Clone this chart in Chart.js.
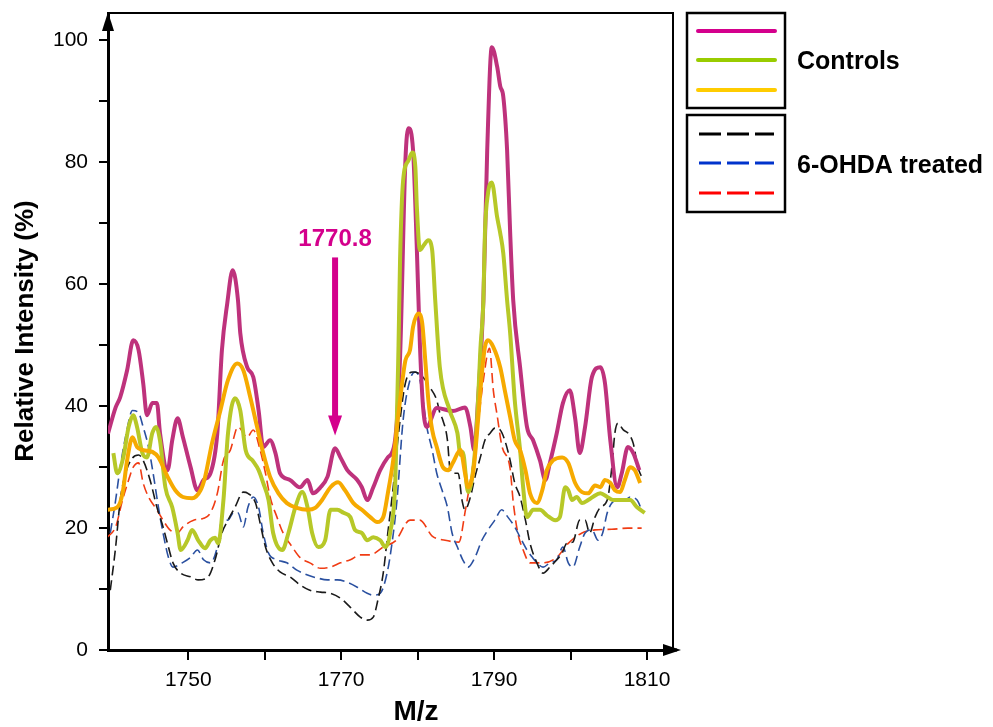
<!DOCTYPE html>
<html>
<head>
<meta charset="utf-8">
<title>Relative intensity, M/z 1740-1810</title>
<script src="https://cdn.jsdelivr.net/npm/chart.js@4.4.1/dist/chart.umd.min.js"></script>
<style>
  html, body { margin: 0; padding: 0; background: #fff; }
</style>
</head>
<body>
<canvas id="msChart" width="993" height="727"></canvas>
<script>
// --- data (M/z, relative intensity %) ---

// controls (solid)
const ctrlAMz = [1739.5,1740.5,1741.1,1742.0,1742.8,1743.5,1744.1,1744.6,1745.3,1745.9,1746.3,1747.3,1747.9,1748.6,1749.3,1750.3,1751.2,1752.0,1752.9,1753.8,1754.4,1755.1,1755.8,1756.5,1756.8,1757.7,1758.5,1759.2,1759.8,1760.7,1761.4,1762.0,1763.3,1764.6,1765.6,1766.3,1767.3,1768.2,1769.2,1769.9,1770.8,1772.1,1772.7,1773.4,1774.2,1775.1,1776.1,1777.0,1777.7,1778.4,1778.8,1779.4,1779.9,1780.3,1780.7,1781.2,1782.5,1784.6,1786.2,1786.9,1787.4,1787.9,1788.6,1789.1,1789.7,1790.4,1790.8,1791.2,1791.7,1792.1,1792.5,1793.4,1794.3,1795.1,1796.0,1796.7,1797.3,1798.2,1799.0,1799.9,1800.6,1801.2,1801.9,1802.8,1803.9,1804.5,1805.2,1806.1,1806.7,1807.5,1808.2,1809.0];
const ctrlAInt = [35.5,39.8,41.5,45.9,50.8,49.2,43.8,38.5,40.5,40.5,35.6,29.5,34.4,38.0,34.9,30.0,26.2,27.9,29.0,35.6,49.2,56.9,62.3,57.4,52.0,46.4,44.8,39.3,33.3,34.4,32.3,29.0,27.9,26.7,27.9,25.7,26.7,28.4,33.1,31.6,29.5,27.9,26.7,24.6,26.7,29.5,31.6,34.0,48.0,80.3,85.6,82.0,65.6,50.0,40.0,36.6,39.7,39.2,39.8,36.6,32.8,41.0,57.4,82.0,98.9,95.7,92.5,90.8,82.0,68.5,57.4,46.4,36.6,34.4,31.1,27.9,30.7,35.6,40.5,42.6,38.0,32.3,36.6,44.8,46.4,43.8,34.4,26.7,29.0,33.3,32.3,29.5];

const ctrlBMz = [1740.2,1740.7,1741.5,1742.2,1742.8,1743.3,1744.0,1744.6,1745.3,1745.8,1746.3,1747.0,1747.9,1748.6,1749.0,1749.9,1750.5,1751.3,1752.2,1752.9,1753.5,1753.9,1754.6,1755.2,1756.1,1756.8,1757.5,1758.4,1759.2,1759.8,1760.5,1761.1,1762.3,1763.1,1764.0,1764.9,1765.6,1766.2,1767.0,1767.9,1768.6,1769.5,1770.3,1771.2,1771.8,1772.7,1773.4,1774.2,1775.1,1775.8,1776.4,1777.1,1777.5,1777.7,1778.1,1778.8,1779.3,1779.7,1779.9,1780.3,1780.8,1781.4,1781.9,1782.3,1782.9,1784.2,1785.2,1785.6,1785.9,1786.6,1787.3,1787.8,1788.2,1788.6,1788.8,1789.2,1789.7,1790.4,1790.8,1791.2,1791.7,1792.1,1792.7,1793.4,1793.8,1794.3,1795.1,1796.0,1796.9,1798.0,1798.6,1799.3,1799.7,1800.2,1800.8,1801.5,1802.3,1802.9,1803.9,1804.8,1805.6,1806.5,1807.8,1808.7,1809.7];
const ctrlBInt = [32.3,29.0,31.6,36.6,38.5,36.6,32.3,31.6,35.6,36.6,34.4,26.7,23.4,19.2,16.4,18.0,19.7,18.0,16.7,18.0,18.4,17.5,24.6,35.6,41.3,39.3,32.8,31.1,29.5,27.4,24.6,19.2,16.4,19.2,23.4,25.9,23.4,19.2,16.9,18.0,23.0,23.0,22.5,21.8,19.7,19.2,18.0,18.5,18.0,16.9,19.2,28.4,50.0,64.0,77.0,80.3,81.6,79.2,72.6,65.6,66.4,67.2,65.6,57.4,46.4,39.3,35.6,32.0,32.5,25.9,30.0,38.2,49.2,57.4,68.4,74.9,76.7,71.0,68.4,65.1,57.4,52.0,41.0,32.8,26.7,21.8,23.0,23.0,22.1,21.3,21.8,26.7,26.2,24.6,25.1,24.1,24.6,25.1,25.7,25.1,24.6,24.6,24.6,23.4,22.5];

const ctrlCMz = [1739.4,1740.7,1741.4,1742.0,1742.7,1743.3,1744.1,1745.3,1746.1,1747.3,1748.3,1749.3,1750.5,1751.6,1752.2,1753.1,1754.2,1755.2,1756.4,1757.2,1758.1,1759.0,1759.8,1760.7,1761.8,1762.9,1764.2,1765.6,1766.6,1767.5,1768.6,1769.6,1770.5,1771.6,1772.7,1773.8,1774.7,1775.5,1776.1,1776.8,1777.7,1778.4,1779.0,1779.4,1780.1,1780.6,1781.0,1781.4,1781.9,1782.5,1783.3,1784.0,1784.6,1785.6,1786.2,1786.6,1787.3,1787.9,1788.4,1788.8,1789.2,1789.9,1790.8,1791.4,1792.1,1792.7,1793.4,1794.1,1794.7,1795.6,1796.3,1796.9,1797.7,1798.9,1799.7,1800.6,1801.5,1802.3,1803.2,1803.9,1804.5,1805.2,1805.8,1806.5,1807.1,1807.8,1808.4,1809.1];
const ctrlCInt = [23.0,23.4,25.7,31.1,34.9,33.3,32.8,32.5,31.6,28.4,26.2,25.1,24.9,26.2,28.4,33.9,39.3,44.3,47.0,45.9,41.5,36.6,32.3,28.4,25.7,24.1,23.3,23.0,23.3,24.6,26.7,27.5,26.2,24.1,23.0,21.8,21.0,21.8,25.7,31.1,41.0,47.5,49.2,53.0,55.2,53.6,47.5,41.0,36.1,33.3,30.0,29.5,30.7,32.8,29.0,26.7,29.5,37.7,45.4,49.7,50.8,49.7,46.4,42.6,38.2,34.4,32.8,29.5,25.7,24.1,26.2,29.5,31.1,31.6,30.7,27.4,25.9,25.7,27.0,26.7,27.9,27.4,26.2,25.9,27.9,30.0,29.5,27.4];

// 6-OHDA treated (dashed)
const ohdaAMz = [1739.8,1740.5,1741.1,1741.8,1742.7,1743.5,1744.1,1745.0,1745.9,1746.7,1747.4,1748.0,1749.0,1750.3,1751.3,1752.6,1753.5,1754.4,1755.2,1756.1,1757.2,1757.8,1758.8,1759.4,1760.1,1761.0,1762.0,1763.3,1764.6,1765.9,1767.3,1768.6,1769.9,1771.2,1772.5,1773.4,1774.2,1774.8,1775.5,1776.1,1776.8,1777.5,1778.4,1779.4,1780.1,1781.0,1781.6,1782.5,1782.9,1783.3,1783.9,1784.2,1784.6,1785.3,1785.8,1786.2,1786.9,1787.5,1788.2,1788.8,1789.5,1790.1,1790.8,1791.4,1792.1,1792.7,1793.4,1794.1,1794.7,1795.6,1796.4,1797.3,1798.2,1798.9,1799.5,1800.3,1801.2,1801.9,1802.5,1803.2,1803.9,1804.8,1805.4,1805.8,1806.2,1806.9,1807.5,1808.2,1808.8,1809.3];
const ohdaAInt = [9.8,16.9,24.6,29.0,31.5,32.0,31.1,27.9,23.4,20.2,16.9,14.3,12.6,12.0,11.5,12.0,14.8,19.2,21.3,23.4,25.9,25.7,24.1,20.8,16.9,14.3,12.8,12.0,10.7,9.8,9.5,9.3,8.5,7.0,5.4,4.9,5.4,8.2,12.6,19.2,26.7,35.5,43.8,45.6,45.4,44.3,43.1,41.0,38.9,37.7,34.4,30.0,29.0,29.0,24.6,23.0,25.1,28.4,31.6,34.4,35.6,36.4,36.1,34.4,31.1,27.4,25.1,21.3,17.5,14.3,12.6,13.6,14.8,15.9,17.5,17.7,21.3,21.3,19.2,21.8,23.4,24.6,30.0,35.6,37.2,36.1,35.6,33.9,30.0,28.4];

const ohdaBMz = [1739.8,1740.5,1741.1,1741.9,1742.7,1743.5,1744.1,1744.8,1745.4,1746.1,1746.7,1747.4,1748.0,1749.2,1750.3,1751.2,1752.0,1752.9,1753.8,1754.4,1755.2,1755.9,1756.5,1757.2,1757.8,1758.5,1759.2,1759.8,1760.5,1761.6,1762.9,1764.2,1765.6,1766.9,1768.2,1769.5,1770.8,1772.1,1773.4,1774.2,1775.1,1776.0,1776.7,1777.3,1778.1,1779.0,1779.7,1780.3,1780.7,1781.2,1781.9,1782.5,1783.2,1783.9,1784.5,1785.2,1785.9,1786.6,1787.5,1788.4,1789.2,1790.1,1791.0,1791.8,1792.7,1793.4,1794.3,1795.0,1795.6,1796.4,1797.3,1798.2,1799.0,1799.7,1800.3,1801.2,1801.9,1802.8,1803.6,1804.2,1804.8,1805.4,1806.2,1807.1,1807.8,1808.7,1809.3];
const ohdaBInt = [19.2,24.6,30.0,35.6,39.3,38.9,36.6,33.3,29.0,23.4,19.2,15.2,13.6,14.3,15.2,16.4,14.8,14.3,16.9,21.3,21.3,22.5,22.5,20.2,23.4,25.1,23.4,19.2,15.9,14.8,14.3,13.1,12.3,11.8,11.5,11.5,11.1,10.3,9.3,9.0,9.3,12.6,18.0,24.6,37.7,44.3,45.6,44.3,41.0,36.6,32.8,29.0,26.2,23.4,19.2,16.9,14.8,13.6,15.2,18.0,19.7,21.3,23.0,21.8,20.2,18.5,16.4,15.2,14.3,13.6,14.3,14.8,16.9,14.3,13.6,16.9,19.2,19.7,18.0,19.2,22.5,24.1,24.6,24.6,25.1,24.6,23.0];

const ohdaCMz = [1739.4,1740.5,1741.4,1742.2,1742.8,1743.5,1744.1,1744.8,1745.9,1746.7,1747.6,1748.6,1749.3,1750.7,1752.0,1752.9,1753.8,1754.6,1755.5,1756.5,1757.7,1758.5,1759.4,1760.1,1760.7,1761.6,1762.4,1763.6,1764.6,1765.9,1767.3,1768.6,1769.9,1771.2,1772.5,1773.8,1775.5,1777.1,1779.0,1780.3,1781.9,1783.6,1785.4,1786.2,1787.5,1788.6,1789.4,1789.9,1790.4,1791.0,1792.1,1792.5,1793.1,1793.8,1794.7,1796.4,1798.2,1799.7,1801.5,1803.2,1805.4,1807.5,1809.3];
const ohdaCInt = [18.5,20.2,24.6,27.9,30.0,30.7,27.4,25.1,23.0,21.3,19.7,19.2,20.2,21.3,21.6,22.5,25.7,31.1,32.8,36.6,34.9,36.1,32.8,29.0,25.1,21.8,19.2,16.9,15.2,14.3,13.4,13.6,14.3,14.8,15.6,15.6,16.9,17.9,21.3,21.3,18.7,18.0,17.7,22.6,32.8,44.3,49.5,42.6,38.5,33.6,29.7,24.3,19.2,16.4,14.3,14.3,15.2,17.5,19.2,19.7,19.8,20.0,20.0];

// axes
const xTickValues = [1750, 1760, 1770, 1780, 1790, 1800, 1810];
const xTickLabels = [1750, 1770, 1790, 1810];
const yTickValues = [0, 10, 20, 30, 40, 50, 60, 70, 80, 90, 100];
const yTickLabels = [0, 20, 40, 60, 80, 100];

// annotation: arrow pointing at the 1770.8 peak
const annotText = '1770.8';
const annotMz = 1769.2;
const annotTop = 64.4;
const annotTip = 35.2;
const annotLabelY = 67.4;

const FONT = '"Liberation Sans", Arial, Helvetica, sans-serif';

function toPoints(xs, ys) {
  return xs.map((x, i) => ({ x: x, y: ys[i] }));
}

function solid(label, xs, ys, color, order) {
  return { label, data: toPoints(xs, ys), borderColor: color, borderWidth: 4, order: order };
}
function dashed(label, xs, ys, color, order) {
  return { label, data: toPoints(xs, ys), borderColor: color, borderWidth: 1.6, borderDash: [10, 5], order: order };
}

// legend, axis titles, frame and the annotation arrow
const decorPlugin = {
  id: 'decor',
  afterDraw(chart) {
    const { ctx, chartArea: a, scales } = chart;
    const xs = scales.x, ys = scales.y;
    ctx.save();

    // frame top + right
    ctx.strokeStyle = '#000';
    ctx.lineWidth = 2;
    ctx.beginPath();
    ctx.moveTo(a.left, a.top);
    ctx.lineTo(a.right, a.top);
    ctx.lineTo(a.right, a.bottom);
    ctx.stroke();

    // axis arrowheads
    ctx.fillStyle = '#000';
    ctx.beginPath();
    ctx.moveTo(a.left, a.top - 1);
    ctx.lineTo(a.left - 6, a.top + 18);
    ctx.lineTo(a.left + 6, a.top + 18);
    ctx.closePath();
    ctx.fill();
    ctx.lineWidth = 3;
    ctx.beginPath();
    ctx.moveTo(a.right - 2, a.bottom);
    ctx.lineTo(a.right + 4, a.bottom);
    ctx.stroke();
    ctx.beginPath();
    ctx.moveTo(a.right + 8, a.bottom);
    ctx.lineTo(a.right - 10, a.bottom - 6);
    ctx.lineTo(a.right - 10, a.bottom + 6);
    ctx.closePath();
    ctx.fill();

    // axis titles
    ctx.fillStyle = '#000';
    ctx.textAlign = 'center';
    ctx.textBaseline = 'middle';
    ctx.font = 'bold 26px ' + FONT;
    ctx.save();
    ctx.translate(26, 331);
    ctx.rotate(-Math.PI / 2);
    ctx.fillText('Relative Intensity (%)', 0, 0);
    ctx.restore();
    ctx.font = 'bold 28px ' + FONT;
    ctx.fillText('M/z', 416, 712);

    // annotation
    const ax = xs.getPixelForValue(annotMz);
    const aTop = ys.getPixelForValue(annotTop);
    const aTip = ys.getPixelForValue(annotTip);
    ctx.fillStyle = '#D4008C';
    ctx.fillRect(ax - 3, aTop, 6, aTip - aTop - 18);
    ctx.beginPath();
    ctx.moveTo(ax, aTip);
    ctx.lineTo(ax - 7, aTip - 20);
    ctx.lineTo(ax + 7, aTip - 20);
    ctx.closePath();
    ctx.fill();
    ctx.font = 'bold 24px ' + FONT;
    ctx.fillText(annotText, ax, ys.getPixelForValue(annotLabelY));

    // legend boxes
    ctx.strokeStyle = '#000';
    ctx.lineWidth = 2.5;
    ctx.strokeRect(687, 13, 98, 95);
    ctx.strokeRect(687, 115, 98, 97);

    ctx.lineCap = 'round';
    ctx.lineWidth = 4;
    [['#D4008C', 31], ['#99CC00', 60], ['#FFCC00', 90]].forEach(([c, yy]) => {
      ctx.strokeStyle = c;
      ctx.beginPath(); ctx.moveTo(698, yy); ctx.lineTo(775, yy); ctx.stroke();
    });
    ctx.lineCap = 'butt';
    ctx.lineWidth = 3;
    ctx.setLineDash([22, 6]);
    [['#000000', 134], ['#0033CC', 163], ['#FF0000', 193]].forEach(([c, yy]) => {
      ctx.strokeStyle = c;
      ctx.beginPath(); ctx.moveTo(699, yy); ctx.lineTo(774, yy); ctx.stroke();
    });
    ctx.setLineDash([]);

    ctx.fillStyle = '#000';
    ctx.textAlign = 'left';
    ctx.font = 'bold 25px ' + FONT;
    ctx.fillText('Controls', 797, 62);
    ctx.fillText('6-OHDA treated', 797, 166);

    ctx.restore();
  }
};

const axisGrid = { drawOnChartArea: false, drawTicks: true, color: '#000', lineWidth: 2 };

const chart = new Chart(document.getElementById('msChart').getContext('2d'), {
  type: 'line',
  data: {
    datasets: [
      solid('Control 3', ctrlCMz, ctrlCInt, '#F6AA00', 0),
      solid('Control 2', ctrlBMz, ctrlBInt, '#B7C828', 1),
      solid('Control 1', ctrlAMz, ctrlAInt, '#BE327C', 2),
      dashed('6-OHDA 1', ohdaAMz, ohdaAInt, '#1A1A1A', 3),
      dashed('6-OHDA 2', ohdaBMz, ohdaBInt, '#2A50A0', 4),
      dashed('6-OHDA 3', ohdaCMz, ohdaCInt, '#F03C14', 5)
    ]
  },
  options: {
    responsive: false,
    devicePixelRatio: 1,
    animation: false,
    layout: { padding: { top: 13, right: 320, left: 0, bottom: 0 } },
    elements: {
      point: { radius: 0 },
      line: { cubicInterpolationMode: 'monotone', fill: false }
    },
    scales: {
      x: {
        type: 'linear',
        min: 1739.5,
        max: 1813.4,
        afterFit: (s) => { s.height = 77; s.paddingLeft = 0; s.paddingRight = 0; },
        afterBuildTicks: (s) => { s.ticks = xTickValues.map(v => ({ value: v })); },
        ticks: {
          autoSkip: false, maxRotation: 0, padding: 8, color: '#000',
          font: { family: FONT, size: 21 },
          callback: (v) => (xTickLabels.includes(v) ? String(v) : '')
        },
        grid: Object.assign({ tickLength: 10 }, axisGrid),
        border: { display: true, color: '#000', width: 3 }
      },
      y: {
        type: 'linear',
        min: 0,
        max: 104.5,
        afterFit: (s) => { s.width = 108; s.paddingTop = 0; s.paddingBottom = 0; },
        afterBuildTicks: (s) => { s.ticks = yTickValues.map(v => ({ value: v })); },
        ticks: {
          autoSkip: false, padding: 11, color: '#000',
          font: { family: FONT, size: 21 },
          callback: (v) => (yTickLabels.includes(v) ? String(v) : '')
        },
        grid: Object.assign({ tickLength: 9 }, axisGrid),
        border: { display: true, color: '#000', width: 3 }
      }
    },
    plugins: {
      legend: { display: false },
      tooltip: { enabled: false }
    }
  },
  plugins: [decorPlugin]
});
</script>
</body>
</html>
